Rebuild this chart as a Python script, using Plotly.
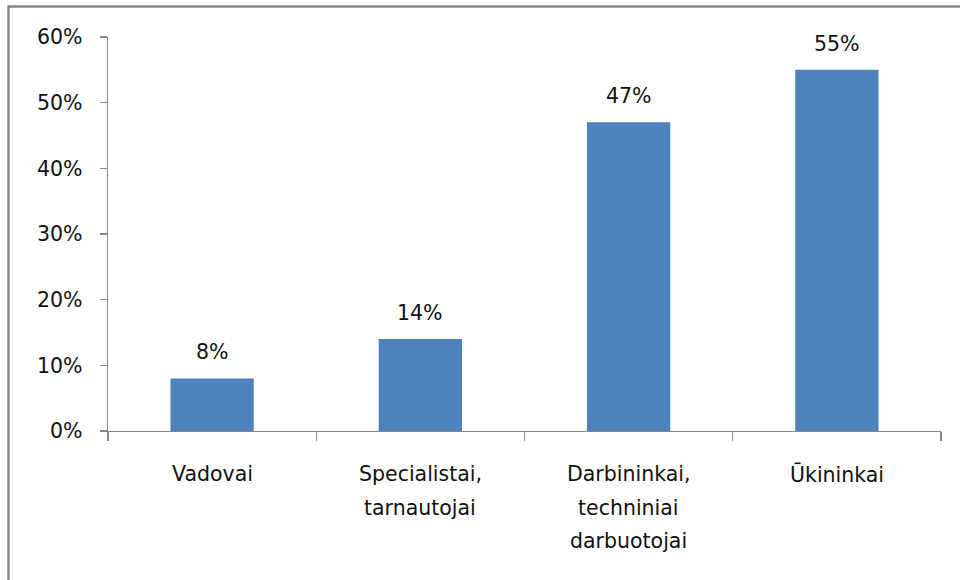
import plotly.graph_objects as go

categories = ["Vadovai", "Specialistai,\ntarnautojai", "Darbininkai,\ntechniniai\ndarbuotojai", "Ūkininkai"]
values = [0.08, 0.14, 0.47, 0.55]
value_labels = ["8%", "14%", "47%", "55%"]
y_ticks = [0, 0.1, 0.2, 0.3, 0.4, 0.5, 0.6]
y_tick_labels = ["0%", "10%", "20%", "30%", "40%", "50%", "60%"]

FONT = "DejaVu Sans"
FS = 20.5
TEXT_COLOR = "#111111"
AXIS_COLOR = "#868686"
BAR_COLOR = "#4F81BD"

W, H = 960, 580
L, R, T, B = 108, 19, 37, 149

fig = go.Figure()
fig.add_trace(go.Bar(
    x=categories, y=values,
    marker=dict(color=BAR_COLOR, line=dict(width=0)),
    width=0.4,
    hoverinfo="skip",
))

annotations = []
for c, v, t in zip(categories, values, value_labels):
    annotations.append(dict(
        x=c, y=v, xref="x", yref="y", text=t, showarrow=False,
        yanchor="middle", yshift=26,
        font=dict(family=FONT, size=FS, color=TEXT_COLOR),
    ))
LINE_GAP = 33.5
for c in categories:
    for i, line in enumerate(c.split("\n")):
        annotations.append(dict(
            x=c, y=0, xref="x", yref="paper", text=line, showarrow=False,
            yanchor="middle", yshift=-43 - i * LINE_GAP,
            font=dict(family=FONT, size=FS, color=TEXT_COLOR),
        ))

plot_w = W - L - R
plot_h = H - T - B
border_px = dict(x0=8.5, y0=6.5, x1=W + 20, y1=H + 20)
fig.add_shape(
    type="rect", xref="paper", yref="paper",
    x0=(border_px["x0"] - L) / plot_w,
    x1=(border_px["x1"] - L) / plot_w,
    y0=(H - B - border_px["y1"]) / plot_h,
    y1=(H - B - border_px["y0"]) / plot_h,
    line=dict(color="#878787", width=2.4),
    fillcolor="rgba(0,0,0,0)",
    layer="above",
)

fig.update_layout(
    width=W, height=H,
    margin=dict(l=L, r=R, t=T, b=B, pad=0),
    paper_bgcolor="white", plot_bgcolor="white",
    showlegend=False,
    annotations=annotations,
    font=dict(family=FONT, size=FS, color=TEXT_COLOR),
    xaxis=dict(
        type="category",
        showticklabels=False,
        tickson="boundaries",
        ticks="outside", ticklen=9, tickwidth=1.3, tickcolor=AXIS_COLOR,
        showline=True, linecolor=AXIS_COLOR, linewidth=1.3,
        showgrid=False, zeroline=False,
        range=[-0.5, len(categories) - 0.5],
    ),
    yaxis=dict(
        range=[0, 0.6],
        tickvals=y_ticks, ticktext=y_tick_labels,
        ticks="outside", ticklen=7, tickwidth=1.3, tickcolor=AXIS_COLOR,
        showline=True, linecolor=AXIS_COLOR, linewidth=1.3,
        showgrid=False, zeroline=False,
        ticklabelstandoff=13,
        tickfont=dict(family=FONT, size=FS, color=TEXT_COLOR),
    ),
)

fig.write_html(
    "out.html",
    config={"displayModeBar": False, "staticPlot": True},
    post_script="document.body.style.margin='0';document.body.style.overflow='hidden';",
)
